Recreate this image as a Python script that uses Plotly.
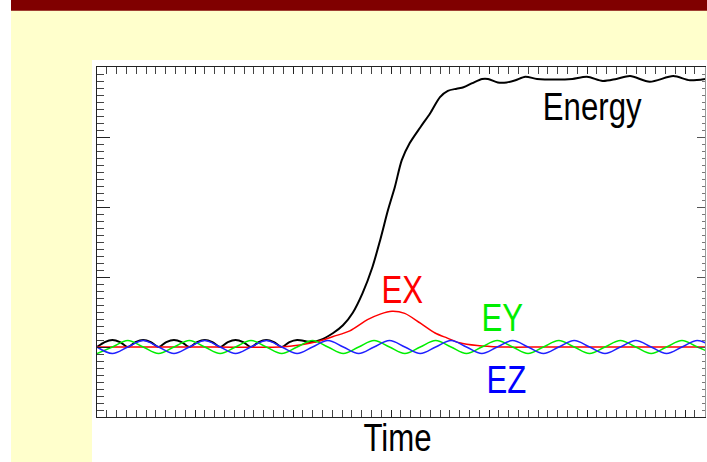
import plotly.graph_objects as go

# ---- sampled series (time in ω·t units, field values in arbitrary units) ----
# transverse components sampled every quarter period (π/2)
WAVE_STEP = 1.5708
t_wave = [round(i * WAVE_STEP, 4) for i in range(41)]

ey_vals = [0.907, 1.0, 1.093, 1.0, 0.907, 1.0, 1.093, 1.0, 0.907, 1.0,
           1.093, 1.0, 0.907, 1.0, 1.093, 1.0, 0.907, 1.0, 1.093, 1.0,
           0.907, 1.0, 1.093, 1.0, 0.907, 1.0, 1.093, 1.0, 0.907, 1.0,
           1.093, 1.0, 0.907, 1.0, 1.093, 1.0, 0.907, 1.0, 1.093, 1.0,
           0.907]

ez_vals = [1.0, 0.907, 1.0, 1.093, 1.0, 0.907, 1.0, 1.093, 1.0, 0.907,
           1.0, 1.093, 1.0, 0.907, 1.0, 1.093, 1.0, 0.907, 1.0, 1.093,
           1.0, 0.907, 1.0, 1.093, 1.0, 0.907, 1.0, 1.093, 1.0, 0.907,
           1.0, 1.093, 1.0, 0.907, 1.0, 1.093, 1.0, 0.907, 1.0, 1.093,
           1.0]

# longitudinal component: flat, then a single pulse
ex_t = [0.0, 6.0, 12.0, 18.7, 20.7, 22.8, 24.1, 25.8, 27.6, 28.9, 30.1,
        31.4, 33.0, 34.5, 35.7, 37.0, 38.8, 41.1, 46.0, 52.0, 58.0, 62.04]
ex_vals = [1.0, 1.0, 1.0, 1.0, 1.03, 1.09, 1.15, 1.23, 1.39, 1.47, 1.51,
           1.48, 1.34, 1.20, 1.13, 1.06, 1.02, 1.0, 1.0, 1.0, 1.0, 1.0]

# energy: small ripple (every π/4), then the rise and the plateau
ENERGY_STEP = 0.7854
energy_osc_vals = [1.0, 1.07, 1.10, 1.07, 1.0, 1.07, 1.10, 1.07, 1.0, 1.07,
                   1.10, 1.07, 1.0, 1.07, 1.10, 1.07, 1.0, 1.07, 1.10, 1.07,
                   1.0, 1.07, 1.10, 1.07, 1.0, 1.07, 1.10]
energy_osc_t = [round(i * ENERGY_STEP, 4) for i in range(len(energy_osc_vals))]

energy_rise_t = [21.9, 22.8, 24.1, 25.1, 26.1, 27.1, 28.1, 28.9, 29.7, 30.4,
                 31.1, 31.9, 33.0, 34.0, 35.0, 35.8, 36.7, 37.4, 38.3, 39.3,
                 39.9, 40.9, 41.8, 42.7, 43.7, 44.9, 46.9, 48.5, 50.0, 51.6,
                 53.0, 54.4, 56.4, 58.8, 60.5, 62.04]
energy_rise_vals = [1.07, 1.10, 1.20, 1.31, 1.49, 1.77, 2.14, 2.53, 2.96, 3.29,
                    3.67, 3.91, 4.14, 4.34, 4.57, 4.66, 4.69, 4.71, 4.77, 4.83,
                    4.83, 4.78, 4.78, 4.81, 4.86, 4.83, 4.82, 4.83, 4.86, 4.80,
                    4.83, 4.87, 4.79, 4.87, 4.81, 4.83]

energy_t = energy_osc_t + energy_rise_t
energy_vals = energy_osc_vals + energy_rise_vals

T_RANGE = [0, 62.04]
V_RANGE = [0, 5]

LABEL_FONT = "Liberation Sans Narrow, Arial Narrow, Liberation Sans, sans-serif"

fig = go.Figure()

fig.add_trace(go.Scatter(x=energy_t, y=energy_vals, mode="lines", name="Energy",
                         line=dict(color="black", width=2, shape="spline", smoothing=0.8),
                         hoverinfo="skip"))
fig.add_trace(go.Scatter(x=ex_t, y=ex_vals, mode="lines", name="EX",
                         line=dict(color="#ff0000", width=1.5, shape="spline", smoothing=0.8),
                         hoverinfo="skip"))
fig.add_trace(go.Scatter(x=t_wave, y=ey_vals, mode="lines", name="EY",
                         line=dict(color="#00ee00", width=1.5, shape="spline", smoothing=1.0),
                         hoverinfo="skip"))
fig.add_trace(go.Scatter(x=t_wave, y=ez_vals, mode="lines", name="EZ", yaxis="y2",
                         line=dict(color="#2020ff", width=1.5, shape="spline", smoothing=1.0),
                         hoverinfo="skip"))

# page decoration: title bar, pale panel and white frame behind the plot
def px_x(p):
    return (p - 97) / 608.0

def px_y(p):
    return (417 - p) / 350.0

shapes = [
    dict(type="rect", xref="paper", yref="paper", layer="below",
         x0=px_x(11), x1=px_x(708), y0=px_y(463), y1=px_y(0),
         fillcolor="#ffffcc", line=dict(width=0)),
    dict(type="rect", xref="paper", yref="paper", layer="below",
         x0=px_x(11), x1=px_x(708), y0=px_y(10.7), y1=px_y(0),
         fillcolor="#800000", line=dict(width=0)),
    dict(type="rect", xref="paper", yref="paper", layer="below",
         x0=px_x(92), x1=px_x(708), y0=px_y(463), y1=px_y(60),
         fillcolor="white", line=dict(width=0)),
]

annotations = [
    dict(text="Energy", x=50.5, y=4.43, xref="x", yref="y", showarrow=False,
         xanchor="center", yanchor="middle",
         font=dict(family=LABEL_FONT, size=38, color="black")),
    dict(text="EX", x=31.2, y=1.81, xref="x", yref="y", showarrow=False,
         xanchor="center", yanchor="middle",
         font=dict(family=LABEL_FONT, size=38, color="#ff0000")),
    dict(text="EY", x=41.4, y=1.41, xref="x", yref="y", showarrow=False,
         xanchor="center", yanchor="middle",
         font=dict(family=LABEL_FONT, size=38, color="#00ee00")),
    dict(text="EZ", x=41.8, y=0.53, xref="x", yref="y", showarrow=False,
         xanchor="center", yanchor="middle",
         font=dict(family=LABEL_FONT, size=38, color="#0000ff")),
    dict(text="Time", x=px_x(397.5), y=px_y(438), xref="paper", yref="paper",
         showarrow=False, xanchor="center", yanchor="middle",
         font=dict(family=LABEL_FONT, size=38, color="black")),
]

fig.update_layout(
    width=707, height=462,
    margin=dict(l=97, r=2, t=67, b=45, pad=0),
    paper_bgcolor="white", plot_bgcolor="white",
    showlegend=False,
    shapes=shapes,
    annotations=annotations,
    xaxis=dict(range=T_RANGE, showgrid=False, zeroline=False, showticklabels=False,
               ticks="inside", tick0=0, dtick=10, ticklen=7, tickwidth=1, tickcolor="#222",
               minor=dict(ticks="inside", dtick=1, ticklen=3, tickwidth=1,
                          tickcolor="#444", showgrid=False),
               showline=True, linecolor="#222", linewidth=1, mirror="allticks"),
    yaxis=dict(range=V_RANGE, showgrid=False, zeroline=False, showticklabels=False,
               ticks="inside", tick0=0, dtick=1, ticklen=13, tickwidth=1, tickcolor="#222",
               minor=dict(ticks="inside", dtick=0.1, ticklen=7, tickwidth=1,
                          tickcolor="#444", showgrid=False),
               showline=True, linecolor="#222", linewidth=1),
    yaxis2=dict(range=V_RANGE, overlaying="y", side="right", anchor="x",
                showgrid=False, zeroline=False, showticklabels=False,
                ticks="inside", tick0=0, dtick=1, ticklen=8, tickwidth=1, tickcolor="#555",
                minor=dict(ticks="inside", dtick=0.1, ticklen=3, tickwidth=1,
                           tickcolor="#777", showgrid=False),
                showline=True, linecolor="#999", linewidth=1),
)

# the labels use a condensed face; narrow the glyphs of the annotation text
condense_js = """
var gd = document.getElementById('{plot_id}');
function condenseLabels() {
  gd.querySelectorAll('text.annotation-text').forEach(function (el) {
    if (el.getAttribute('data-condensed')) { return; }
    var w = el.getComputedTextLength();
    el.setAttribute('lengthAdjust', 'spacingAndGlyphs');
    el.setAttribute('textLength', (w * 0.82).toFixed(1));
    el.setAttribute('data-condensed', '1');
  });
}
condenseLabels();
gd.on('plotly_afterplot', condenseLabels);
"""

fig.write_html("out.html", post_script=condense_js)
